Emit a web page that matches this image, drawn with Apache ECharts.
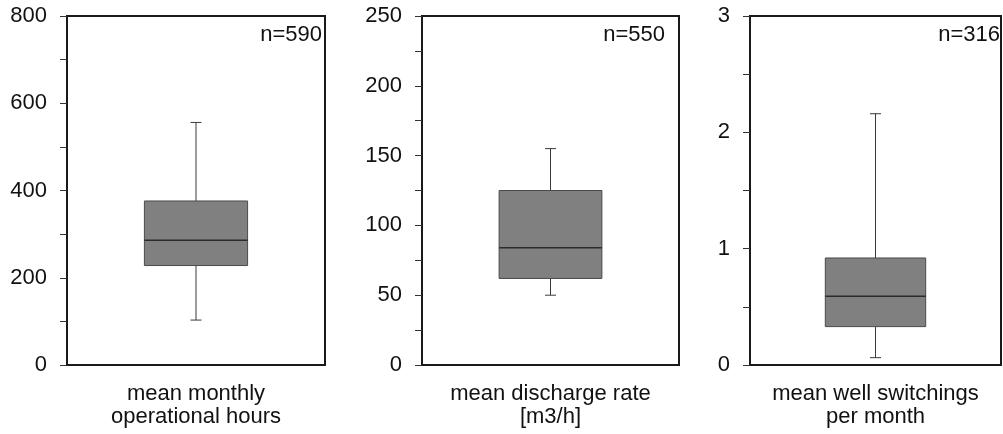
<!DOCTYPE html>
<html>
<head>
<meta charset="utf-8">
<script src="https://cdn.jsdelivr.net/npm/echarts@6/dist/echarts.min.js"></script>
<style>
  html, body { margin: 0; padding: 0; background: #fff; }
  #chart { width: 1003px; height: 434px; }
</style>
</head>
<body>
<div id="chart"></div>
<script>
// Box-plot summaries, one panel per variable
const categories = [
  'mean monthly\noperational hours',
  'mean discharge rate\n[m3/h]',
  'mean well switchings\nper month'
];
const whiskerLow = [103, 50, 0.063];
const quartile1 = [228, 62, 0.33];
const medians = [286, 84, 0.59];
const quartile3 = [376, 125, 0.92];
const whiskerHigh = [556, 155, 2.16];
const sampleSizes = [590, 550, 316];

// y-axis scales and tick labels for each panel
const axisMax = [800, 250, 3];
const axisInterval = [200, 50, 1];
const tickLabels = [
  ['0', '200', '400', '600', '800'],
  ['0', '50', '100', '150', '200', '250'],
  ['0', '1', '2', '3']
];

const FONT = '"Liberation Sans", Arial, sans-serif';
const FRAME = '#1a1a1a';
const TEXT = '#111';

const grids = [
  { left: 67, top: 16, width: 258, height: 349 },
  { left: 422, top: 16, width: 257, height: 349 },
  { left: 750, top: 16, width: 251, height: 349 }
];
const nRight = [681, 338, 3];

function renderBox(params, api) {
  const x = api.value(0);
  const lo = api.coord([x, api.value(1)]);
  const q1 = api.coord([x, api.value(2)]);
  const md = api.coord([x, api.value(3)]);
  const q3 = api.coord([x, api.value(4)]);
  const hi = api.coord([x, api.value(5)]);
  const bw = api.size([1, 0])[0] * 0.4;
  const cx = md[0];
  const cap = 5.5;
  const lineStyle = { stroke: '#3a3a3a', lineWidth: 1 };
  return {
    type: 'group',
    children: [
      { type: 'line', shape: { x1: cx, y1: q3[1], x2: cx, y2: hi[1] }, style: lineStyle },
      { type: 'line', shape: { x1: cx - cap, y1: hi[1], x2: cx + cap, y2: hi[1] }, style: lineStyle },
      { type: 'line', shape: { x1: cx, y1: q1[1], x2: cx, y2: lo[1] }, style: lineStyle },
      { type: 'line', shape: { x1: cx - cap, y1: lo[1], x2: cx + cap, y2: lo[1] }, style: lineStyle },
      {
        type: 'rect',
        shape: { x: cx - bw / 2, y: q3[1], width: bw, height: q1[1] - q3[1] },
        style: { fill: '#808080', stroke: '#4a4a4a', lineWidth: 1 }
      },
      { type: 'line', shape: { x1: cx - bw / 2, y1: md[1], x2: cx + bw / 2, y2: md[1] }, style: { stroke: '#2b2b2b', lineWidth: 1.5 } }
    ]
  };
}

const option = {
  animation: false,
  grid: grids.map(g => Object.assign({ show: true, borderColor: FRAME, borderWidth: 2, backgroundColor: 'transparent' }, g)),
  xAxis: categories.map((c, i) => ({
    type: 'category',
    gridIndex: i,
    data: [c],
    axisLine: { show: true, lineStyle: { color: FRAME, width: 2 } },
    axisTick: { show: false },
    axisLabel: { color: TEXT, fontFamily: FONT, fontSize: 22, lineHeight: 23, margin: 17 }
  })),
  yAxis: axisMax.map((m, i) => ({
    type: 'value',
    gridIndex: i,
    min: 0,
    max: m,
    interval: axisInterval[i],
    splitLine: { show: false },
    axisLine: { show: true, lineStyle: { color: FRAME, width: 2 } },
    axisTick: { show: true, length: 7, lineStyle: { color: '#333', width: 1 } },
    minorTick: { show: true, splitNumber: 2, length: 7, lineStyle: { color: '#333', width: 1 } },
    axisLabel: {
      color: TEXT, fontFamily: FONT, fontSize: 22, margin: 20,
      formatter: (v) => {
        const k = Math.round(v / axisInterval[i]);
        return tickLabels[i][k] !== undefined ? tickLabels[i][k] : '';
      }
    }
  })),
  graphic: sampleSizes.map((n, i) => ({
    type: 'text',
    right: nRight[i],
    top: 24,
    style: { text: 'n=' + n, fill: TEXT, font: '22px ' + FONT }
  })),
  series: categories.map((c, i) => ({
    type: 'custom',
    xAxisIndex: i,
    yAxisIndex: i,
    renderItem: renderBox,
    encode: { x: 0, y: [1, 2, 3, 4, 5] },
    data: [[0, whiskerLow[i], quartile1[i], medians[i], quartile3[i], whiskerHigh[i]]]
  }))
};

const chart = echarts.init(document.getElementById('chart'), null, { renderer: 'canvas' });
chart.setOption(option);
</script>
</body>
</html>
